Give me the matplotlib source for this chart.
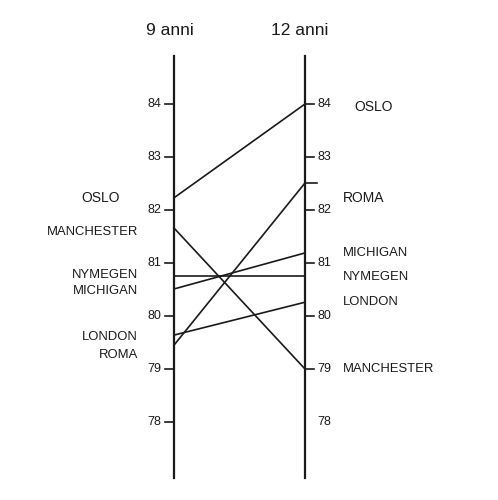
#!/usr/bin/env python3
"""Slope chart: 9 anni vs 12 anni per city."""
import matplotlib.pyplot as plt

plt.rcParams["font.family"] = ["Liberation Sans", "DejaVu Sans"]

cities = ["OSLO", "MANCHESTER", "NYMEGEN", "MICHIGAN", "LONDON", "ROMA"]
age9 = [82.23, 81.66, 80.75, 80.51, 79.64, 79.45]
age12 = [84.0, 79.0, 80.75, 81.19, 80.26, 82.51]

# label positions (values offset so text does not collide)
label9_y = [82.23, 81.59, 80.77, 80.47, 79.60, 79.27]
label12_y = [83.95, 79.00, 80.73, 81.19, 80.26, 82.23]

ticks9 = [84, 83, 82, 81, 80, 79, 78]
ticks12 = [84, 83, 82, 81, 80, 79, 78]
headers = ["9 anni", "12 anni"]

X_L, X_R = 174, 305
Y_TOP, Y_BOT = 84.91, 76.94
INK = "#1a1a1a"


def main() -> None:
    fig = plt.figure(figsize=(4.98, 5.0), dpi=100)
    ax = fig.add_axes([0, 0, 1, 1])
    ax.set_xlim(0, 498)
    ax.set_ylim(84 - 396 / 53, 84 + 104 / 53)
    ax.axis("off")

    # the two vertical axes
    for x in (X_L, X_R):
        ax.plot([x, x], [Y_BOT, Y_TOP], color=INK, lw=1.6)

    # ticks and tick labels
    for t in ticks9:
        ax.plot([X_L - 9, X_L], [t, t], color=INK, lw=1.2)
        ax.text(X_L - 13, t, str(t), ha="right", va="center", fontsize=9,
                color=INK)
    for t in ticks12:
        if t != 78:
            ax.plot([X_R, X_R + 9], [t, t], color=INK, lw=1.2)
        ax.text(X_R + 12, t, str(t), ha="left", va="center", fontsize=9,
                color=INK)

    # slope lines
    for name, a, b in zip(cities, age9, age12):
        ax.plot([X_L, X_R], [a, b], color=INK, lw=1.2)
        if name == "ROMA":
            ax.plot([X_R, X_R + 12], [b, b], color=INK, lw=1.2)

    # city labels
    for name, y in zip(cities, label9_y):
        if name == "OSLO":
            ax.text(101, y, name, ha="center", va="center", fontsize=10,
                    color=INK)
        else:
            ax.text(138, y, name, ha="right", va="center", fontsize=9.4,
                    color=INK)
    for name, y in zip(cities, label12_y):
        x0 = 354 if name == "OSLO" else 343
        fs = 10 if name in ("OSLO", "ROMA") else 9.4
        ax.text(x0, y, name, ha="left", va="center", fontsize=fs, color=INK)

    ax.text(170, 84 + 74 / 53, headers[0], ha="center", va="center",
            fontsize=12.5, color=INK)
    ax.text(300, 84 + 74 / 53, headers[1], ha="center", va="center",
            fontsize=12.5, color=INK)

    fig.savefig("out.png", dpi=100)
    plt.close(fig)


if __name__ == "__main__":
    main()
